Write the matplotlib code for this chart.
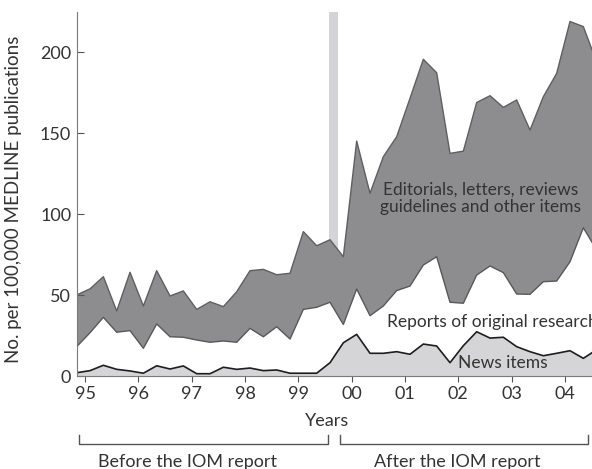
import matplotlib.pyplot as plt
import numpy as np
from matplotlib.lines import Line2D

plt.rcParams["font.family"] = ["Lato", "DejaVu Sans"]

# quarterly values, 1995 Q1 .. 2004 Q4 (per 100,000 MEDLINE publications)
news = [2.2, 3.5, 6.8, 4.3, 3.3, 1.9, 6.5, 4.5, 6.4, 1.6,
        1.6, 5.6, 4.3, 5.1, 3.5, 3.9, 1.9, 1.9, 1.9, 8.4,
        20.7, 25.9, 14.2, 14.2, 15.2, 13.6, 19.9, 18.7, 8.4, 18.9,
        27.5, 23.6, 24.1, 18.3, 15.2, 12.7, 14.2, 15.8, 11.1, 16.4]
research = [16.1, 23.4, 29.6, 22.9, 24.9, 15.4, 25.8, 19.9, 17.7, 20.8,
            19.4, 16.2, 16.7, 24.5, 20.9, 26.7, 21.1, 39.4, 40.7, 37.3,
            11.3, 28.0, 23.2, 29.2, 37.7, 42.1, 48.8, 55.1, 37.3, 26.2,
            35.0, 44.5, 39.9, 32.5, 35.4, 45.7, 44.6, 54.9, 80.6, 61.6]
editorials = [31.9, 27.1, 25.1, 13.1, 36.0, 26.1, 32.9, 25.2, 28.6, 18.9,
              25.0, 21.2, 31.2, 35.6, 41.6, 32.1, 40.6, 48.0, 38.0, 38.6,
              41.8, 91.3, 75.6, 92.2, 95.0, 115.9, 127.0, 113.6, 91.9, 93.9,
              106.5, 105.1, 102.0, 119.8, 101.4, 114.2, 128.2, 148.3, 124.2, 116.0]
year_labels = ["95", "96", "97", "98", "99", "00", "01", "02", "03", "04"]
quarter = np.arange(len(news))

W, H = 592, 469
fig = plt.figure(figsize=(W / 100, H / 100), dpi=100)
ax = fig.add_axes([76.7 / W, 1 - 376.3 / H, (W - 76.7) / W, (376.3 - 12.3) / H])
ax.set_xlim(0, 38.65)
ax.set_ylim(0, 224.7)

# IOM report release
ax.axvspan(18.9, 19.6, color="#d4d4d6", lw=0, zorder=0)

ax.stackplot(quarter, news, research, editorials,
             colors=["#d5d5d7", "white", "#8d8d90"], lw=0, zorder=1)
levels = np.cumsum([news, research, editorials], axis=0)
ax.plot(quarter, levels[0], color="#1e1e1e", lw=1.2, zorder=3)
ax.plot(quarter, levels[1], color="#58585a", lw=1.0, zorder=3)
ax.plot(quarter, levels[2], color="#5f5f61", lw=1.0, zorder=3)

for s in ["top", "right"]:
    ax.spines[s].set_visible(False)
for s in ["left", "bottom"]:
    ax.spines[s].set_color("#7a7a7a")
    ax.spines[s].set_zorder(4)

ax.set_xticks(np.arange(len(year_labels)) * 4 + 0.625, year_labels)
ax.set_yticks([0, 50, 100, 150, 200])
ax.tick_params(axis="y", direction="in", length=5, color="#555555",
               labelsize=13, labelcolor="#333333", pad=4)
ax.tick_params(axis="x", direction="out", length=4.5, color="#555555",
               labelsize=13, labelcolor="#333333", pad=2.5)

ax.set_ylabel("No. per 100,000 MEDLINE publications", fontsize=13.5, color="#333333")
ax.yaxis.set_label_coords(-0.106, 0.485)

ax.text(30.3, 110, "Editorials, letters, reviews\nguidelines and other items",
        ha="center", va="center", fontsize=12.5, color="#333333", linespacing=1.15, zorder=5)
ax.text(23.25, 33.7, "Reports of original research", ha="left", va="center",
        fontsize=12.5, color="#333333", zorder=5)
ax.text(31.96, 8.2, "News items", ha="center", va="center",
        fontsize=12.5, color="#333333", zorder=5)

# below the axes: axis title and period brackets
def fx(px):
    return px / W

def fy(py):
    return 1 - py / H

fig.text(fx(327.5), fy(425.5), "Years", ha="center", va="baseline", fontsize=13, color="#333333")
for x0, x1 in [(79, 327.5), (339.6, 588)]:
    fig.add_artist(Line2D([fx(x0), fx(x0), fx(x1), fx(x1)],
                          [fy(434.7), fy(444), fy(444), fy(434.7)],
                          color="#555555", lw=1.0))
fig.text(fx(187.5), fy(467.3), "Before the IOM report", ha="center", va="baseline",
         fontsize=13, color="#333333")
fig.text(fx(457.5), fy(467.3), "After the IOM report", ha="center", va="baseline",
         fontsize=13, color="#333333")

fig.savefig("out.png", dpi=100)
